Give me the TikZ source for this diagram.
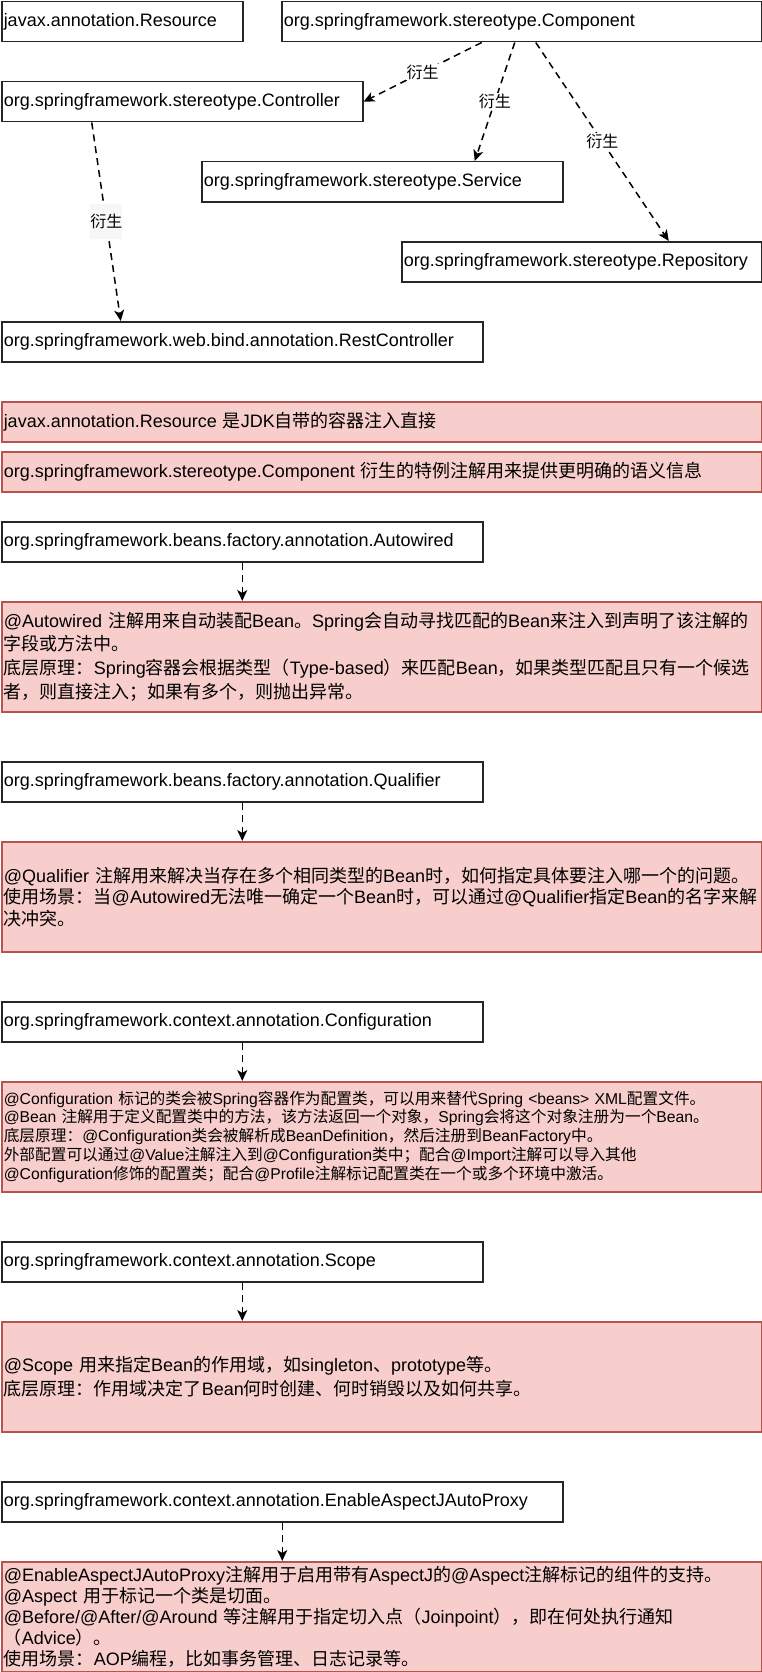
\documentclass[tikz,border=0pt]{standalone}
\usepackage{fontspec}
\setmainfont{Liberation Sans}
\newfontfamily\enfont{Liberation Sans}
\newfontfamily\zhfont{Noto Sans CJK SC}
\usetikzlibrary{arrows.meta}
\definecolor{notefill}{HTML}{F8CECC}
\definecolor{noteline}{HTML}{B85450}
% Chinese characters switch to the CJK font by themselves
\XeTeXinterchartokenstate=1
\newXeTeXintercharclass\zhclass
\newcount\zhc
\def\setzhrange#1#2{\zhc=#1 \loop\XeTeXcharclass\zhc=\zhclass
  \ifnum\zhc<#2 \advance\zhc by 1 \repeat}
\setzhrange{"3000}{"303F}
\setzhrange{"4E00}{"9FFF}
\setzhrange{"FF00}{"FFEF}
\XeTeXinterchartoks 0 \zhclass = {\zhfont}
\XeTeXinterchartoks 4095 \zhclass = {\zhfont}
\XeTeXinterchartoks \zhclass 0 = {\enfont}
\XeTeXinterchartoks \zhclass 4095 = {\enfont}
\begin{document}
\begin{tikzpicture}[x=1pt,y=-1pt,
  box/.style={draw=black!85, line width=1.5pt, fill=white, anchor=north west,
    inner xsep=2pt, inner ysep=0pt, minimum height=40pt, align=left,
    font=\fontsize{18}{21.6}\selectfont},
  note/.style={draw=noteline, line width=1.5pt, fill=notefill, anchor=north west,
    inner xsep=2pt, inner ysep=0pt, text width=756pt, align=left},
  derive/.style={draw=black, line width=1.5pt, dash pattern=on 7pt off 5pt,
    -{Stealth[length=11pt, width=10pt, inset=3pt]}},
  elabel/.style={fill=white, inner sep=1pt, font=\fontsize{16}{19}\selectfont}]
\path[use as bounding box, fill=white] (0,0) rectangle (762,1672);
% ---- stereotype annotations ----
\node[box, text width=237pt] (res) at (1,1) {javax.annotation.Resource};
\node[box, text width=476pt] (comp) at (281,1) {org.springframework.stereotype.Component};
\node[box, text width=357pt] (ctrl) at (1,81) {org.springframework.stereotype.Controller};
\node[box, text width=357pt] (svc) at (201,161) {org.springframework.stereotype.Service};
\node[box, text width=356pt] (repo) at (401,241) {org.springframework.stereotype.Repository};
\node[box, text width=477pt] (rest) at (1,321) {org.springframework.web.bind.annotation.RestController};
% derived annotations
\draw[derive] ([xshift=-40pt]comp.south) -- node[elabel] (der1) {衍生} (ctrl.east);
\draw[derive] ([xshift=-7pt]comp.south) -- node[elabel] (der2) {衍生} ([xshift=92.5pt]svc.north);
\draw[derive] ([xshift=14pt]comp.south) -- node[elabel] (der3) {衍生} ([xshift=87pt]repo.north);
\draw[derive] ([xshift=-90.5pt]ctrl.south) -- node[elabel, fill=black!3, inner xsep=0pt, inner ysep=10pt] (der4) {衍生} ([xshift=-121.5pt]rest.north);
% ---- notes ----
\node[note, minimum height=40pt, font=\fontsize{18}{21.6}\selectfont] (resnote) at (1,401)
  {javax.annotation.Resource 是JDK自带的容器注入直接};
\node[note, minimum height=40pt, font=\fontsize{18}{21.6}\selectfont] (compnote) at (1,451)
  {org.springframework.stereotype.Component 衍生的特例注解用来提供更明确的语义信息};
% ---- Autowired ----
\node[box, text width=477pt] (auto) at (1,521) {org.springframework.beans.factory.annotation.Autowired};
\node[note, minimum height=110pt, font=\fontsize{18}{23.9}\selectfont] (autonote) at (1,601)
  {@Autowired 注解用来自动装配Bean。Spring会自动寻找匹配的Bean来注入到声明了该注解的\\
   字段或方法中。\\
   底层原理：Spring容器会根据类型（Type-based）来匹配Bean，如果类型匹配且只有一个候选\\
   者，则直接注入；如果有多个，则抛出异常。};
\draw[derive] (auto.south) -- (auto.south |- autonote.north);
% ---- Qualifier ----
\node[box, text width=477pt] (qual) at (1,761) {org.springframework.beans.factory.annotation.Qualifier};
\node[note, minimum height=110pt, font=\fontsize{18}{21.5}\selectfont] (qualnote) at (1,841)
  {@Qualifier 注解用来解决当存在多个相同类型的Bean时，如何指定具体要注入哪一个的问题。\\
   使用场景：当@Autowired无法唯一确定一个Bean时，可以通过@Qualifier指定Bean的名字来解\\
   决冲突。};
\draw[derive] (qual.south) -- (qual.south |- qualnote.north);
% ---- Configuration ----
\node[box, text width=477pt] (conf) at (1,1001) {org.springframework.context.annotation.Configuration};
\node[note, minimum height=110pt, font=\fontsize{15.7}{18.8}\selectfont] (confnote) at (1,1081)
  {@Configuration 标记的类会被Spring容器作为配置类，可以用来替代Spring <beans> XML配置文件。\\
   @Bean 注解用于定义配置类中的方法，该方法返回一个对象，Spring会将这个对象注册为一个Bean。\\
   底层原理：@Configuration类会被解析成BeanDefinition，然后注册到BeanFactory中。\\
   外部配置可以通过@Value注解注入到@Configuration类中；配合@Import注解可以导入其他\\
   @Configuration修饰的配置类；配合@Profile注解标记配置类在一个或多个环境中激活。};
\draw[derive] (conf.south) -- (conf.south |- confnote.north);
% ---- Scope ----
\node[box, text width=477pt] (scope) at (1,1241) {org.springframework.context.annotation.Scope};
\node[note, minimum height=110pt, font=\fontsize{18}{23.3}\selectfont] (scopenote) at (1,1321)
  {@Scope 用来指定Bean的作用域，如singleton、prototype等。\\
   底层原理：作用域决定了Bean何时创建、何时销毁以及如何共享。};
\draw[derive] (scope.south) -- (scope.south |- scopenote.north);
% ---- EnableAspectJAutoProxy ----
\node[box, text width=557pt] (aop) at (1,1481) {org.springframework.context.annotation.EnableAspectJAutoProxy};
\node[note, minimum height=110pt, font=\fontsize{18}{21.1}\selectfont] (aopnote) at (1,1561)
  {@EnableAspectJAutoProxy注解用于启用带有AspectJ的@Aspect注解标记的组件的支持。\\
   @Aspect 用于标记一个类是切面。\\
   @Before/@After/@Around 等注解用于指定切入点（Joinpoint），即在何处执行通知\\
   （Advice）。\\
   使用场景：AOP编程，比如事务管理、日志记录等。};
\draw[derive] (aop.south) -- (aop.south |- aopnote.north);
\end{tikzpicture}
\end{document}
